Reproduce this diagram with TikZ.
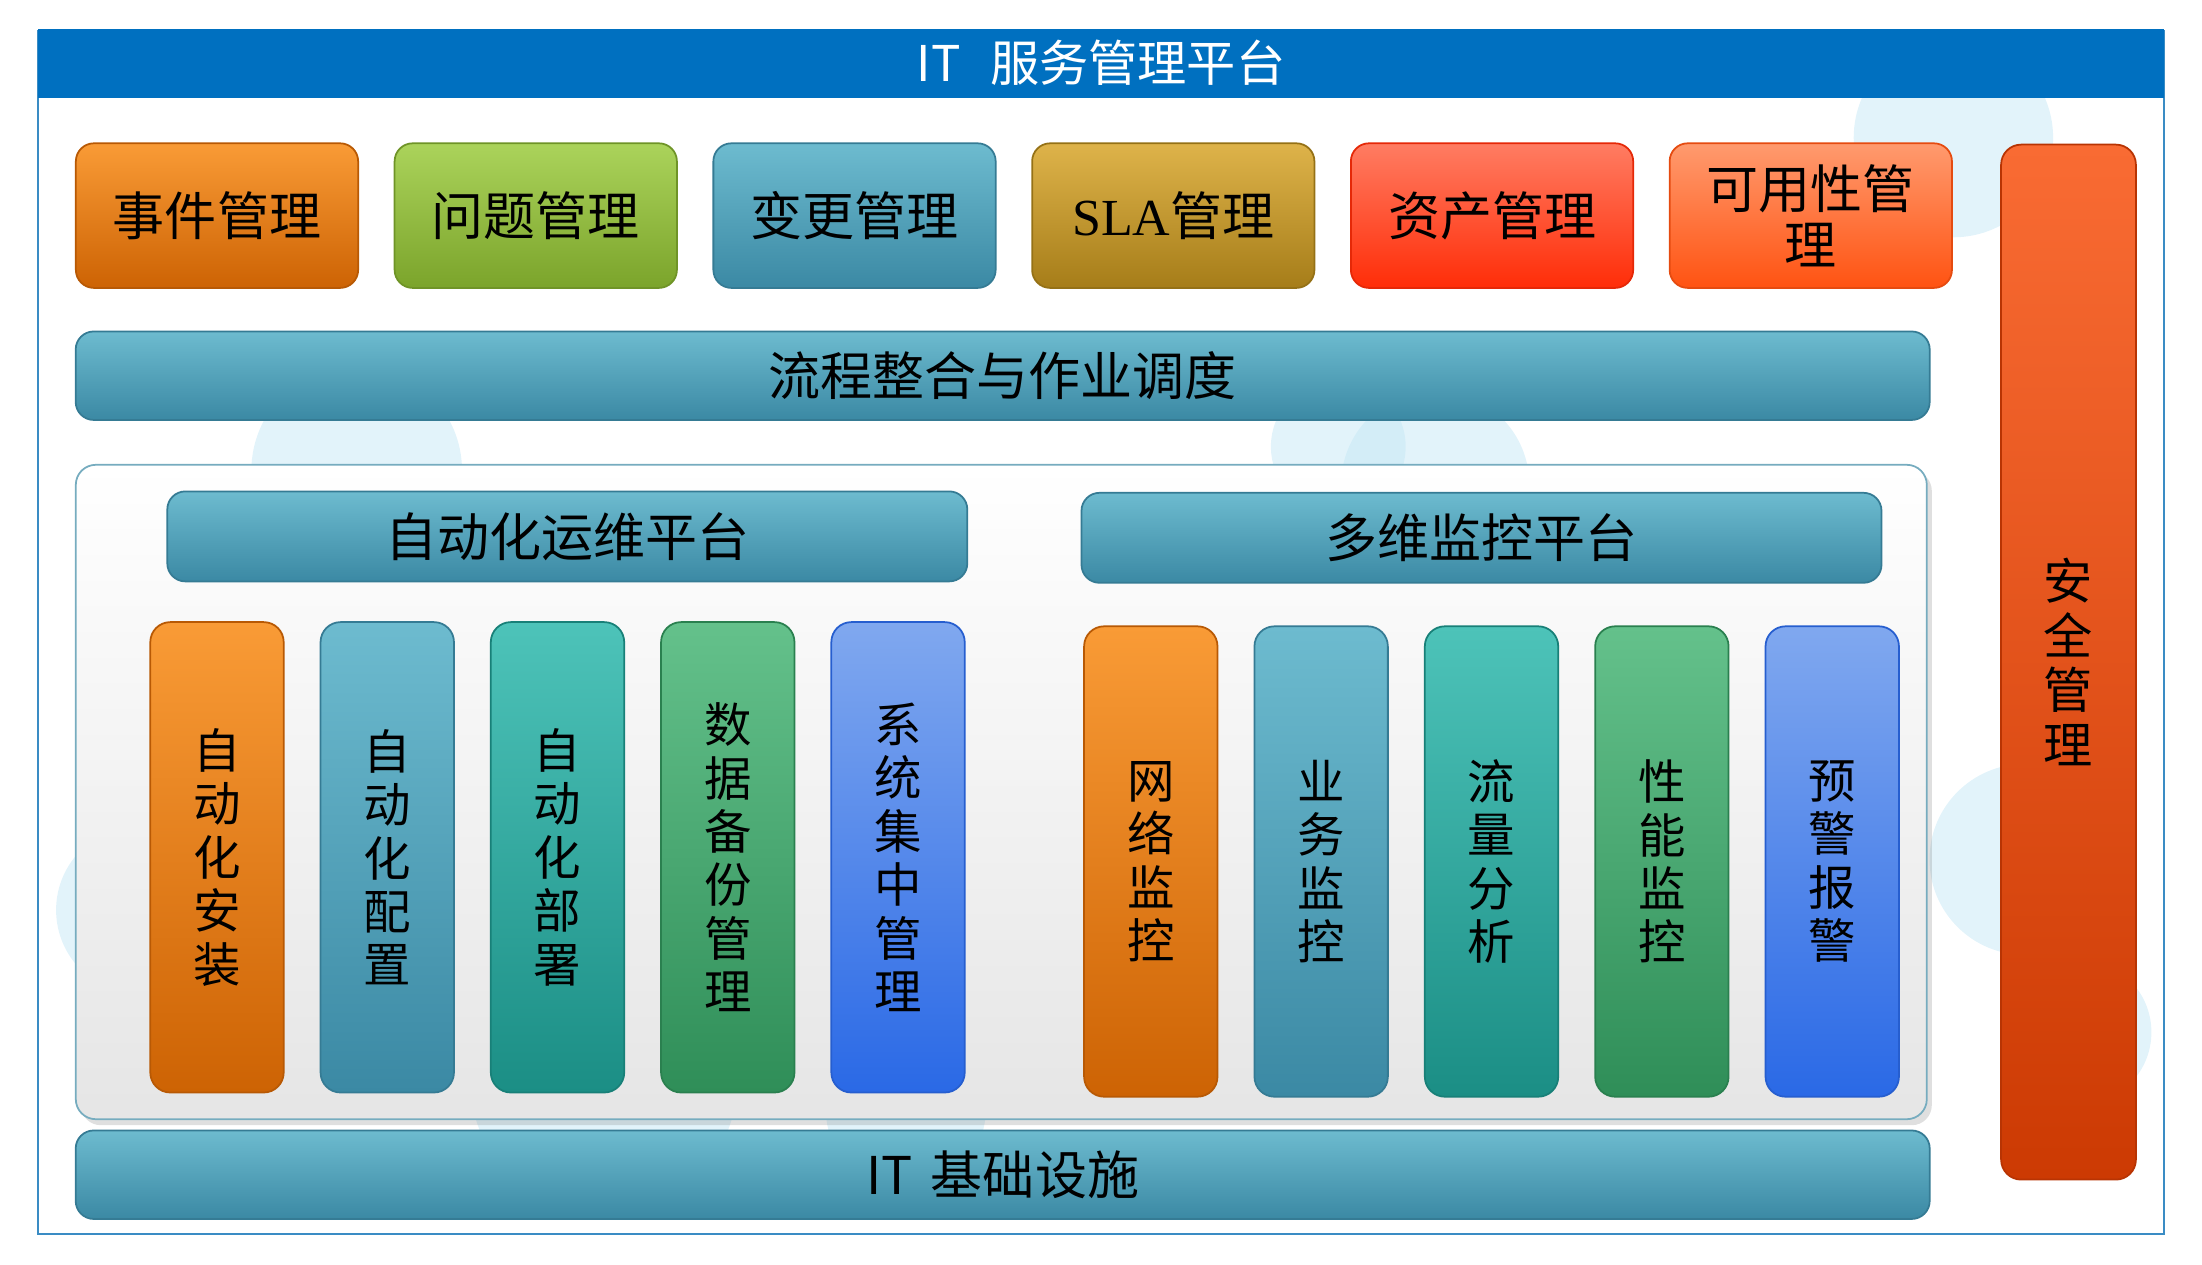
\documentclass[tikz,border=0pt]{standalone}
\usepackage{fontspec}
\setmainfont{Noto Sans CJK SC}
\newfontfamily\slafont{Liberation Serif}
\usepackage{tikz}
\usetikzlibrary{positioning,shadows}

\definecolor{titleblue}{HTML}{0070C0}
\definecolor{framec}{HTML}{3A8CC4}
\definecolor{cloud}{HTML}{C5E7F5}
\definecolor{ortop}{HTML}{F99B36}
\definecolor{orbot}{HTML}{CD6304}
\definecolor{grtop}{HTML}{ABD35B}
\definecolor{grbot}{HTML}{7BA42B}
\definecolor{tltop}{HTML}{6DBBCF}
\definecolor{tlbot}{HTML}{3B89A4}
\definecolor{gdtop}{HTML}{DEB34A}
\definecolor{gdbot}{HTML}{A67D19}
\definecolor{rdtop}{HTML}{FF7C62}
\definecolor{rdbot}{HTML}{FF2D08}
\definecolor{potop}{HTML}{FF9A6E}
\definecolor{pobot}{HTML}{FF5312}
\definecolor{sctop}{HTML}{F96B33}
\definecolor{scbot}{HTML}{CC3A03}
\definecolor{cytop}{HTML}{4DC3B9}
\definecolor{cybot}{HTML}{1B8E85}
\definecolor{gntop}{HTML}{64C18B}
\definecolor{gnbot}{HTML}{2F8E58}
\definecolor{bltop}{HTML}{80A8EF}
\definecolor{blbot}{HTML}{2A69E6}

\begin{document}
\begin{tikzpicture}[
  grad/.style 2 args={top color=#1, bottom color=#2, draw=#2!90!black, line width=0.5pt},
  topbox/.style={rounded corners=1.8mm, minimum width=2.823cm, minimum height=1.446cm,
                 align=center, font=\fontsize{14.8}{16}\selectfont},
  bar/.style={rounded corners=1.8mm, minimum width=18.54cm, minimum height=0.885cm,
              font=\fontsize{14.8}{16}\selectfont, grad={tltop}{tlbot}},
  subbar/.style={rounded corners=1.8mm, minimum width=8.0cm, minimum height=0.9cm,
                 font=\fontsize{14.8}{16}\selectfont, grad={tltop}{tlbot}},
  col/.style={rounded corners=2mm, minimum width=1.334cm, minimum height=4.704cm,
              align=center, font=\fontsize{13.5}{15.2}\selectfont},
  cloudc/.style={fill=cloud, opacity=0.5}
]
\useasboundingbox (0,0) rectangle (22.02,-12.64);

% background clouds
\fill[cloudc] (3.567,-4.704) circle (1.053);
\fill[cloudc] (19.534,-1.376) circle (0.997);
\fill[cloudc] (13.383,-4.466) circle (0.674);
\fill[cloudc] (14.352,-4.845) circle (0.941);
\fill[cloudc] (20.25,-8.594) circle (0.955);
\fill[cloudc] (1.404,-9.1) circle (0.843);
\fill[cloudc] (20.784,-10.322) circle (0.73);
\fill[cloudc] (6.038,-10.813) circle (1.334);
\fill[cloudc] (9.058,-11.094) circle (0.8);

\draw[framec, line width=0.6pt] (0.379,-0.309) rectangle (21.64,-12.344);
\node[fill=titleblue, text=white, minimum width=21.26cm, minimum height=0.646cm,
      font=\fontsize{14}{15.5}\selectfont] (title) at (11.01,-0.632) {IT\hspace{0.6em}服务管理平台};

\node[topbox, grad={ortop}{orbot}] (ev) at (2.170,-2.156) {事件管理};
\node[topbox, grad={grtop}{grbot}, right=0.347cm of ev] (pr) {问题管理};
\node[topbox, grad={tltop}{tlbot}, right=0.347cm of pr] (ch) {变更管理};
\node[topbox, grad={gdtop}{gdbot}, right=0.347cm of ch] (sla) {{\slafont SLA}管理};
\node[topbox, grad={rdtop}{rdbot}, right=0.347cm of sla] (as) {资产管理};
\node[topbox, grad={potop}{pobot}, right=0.347cm of as] (av) {可用性管\\理};

\node[col, grad={sctop}{scbot}, minimum width=1.348cm, minimum height=10.35cm,
      font=\fontsize{14}{15.5}\selectfont] (sec) at (20.685,-6.621) {安\\全\\管\\理};

\node[bar] (flow) at (10.027,-3.757) {流程整合与作业调度};

\node[rounded corners=2mm, minimum width=18.51cm, minimum height=6.544cm,
      top color=white, bottom color=black!10, draw=tlbot!70, line width=0.5pt,
      drop shadow={shadow xshift=0.5mm, shadow yshift=-0.6mm, opacity=0.25}]
      (panel) at (10.013,-7.920) {};

\node[subbar] (auto) at (5.673,-5.364) {自动化运维平台};
\node[subbar] (mon) at (14.815,-5.378) {多维监控平台};

\node[col, grad={ortop}{orbot}] (a1) at (2.170,-8.573) {自\\动\\化\\安\\装};
\node[col, grad={tltop}{tlbot}, right=0.351cm of a1] (a2) {自\\动\\化\\配\\置};
\node[col, grad={cytop}{cybot}, right=0.351cm of a2] (a3) {自\\动\\化\\部\\署};
\node[col, grad={gntop}{gnbot}, right=0.351cm of a3] (a4) {数\\据\\备\\份\\管\\理};
\node[col, grad={bltop}{blbot}, right=0.351cm of a4] (a5) {系\\统\\集\\中\\管\\理};

\node[col, grad={ortop}{orbot}] (m1) at (11.508,-8.615) {网\\络\\监\\控};
\node[col, grad={tltop}{tlbot}, right=0.352cm of m1] (m2) {业\\务\\监\\控};
\node[col, grad={cytop}{cybot}, right=0.352cm of m2] (m3) {流\\量\\分\\析};
\node[col, grad={gntop}{gnbot}, right=0.352cm of m3] (m4) {性\\能\\监\\控};
\node[col, grad={bltop}{blbot}, right=0.352cm of m4] (m5) {预\\警\\报\\警};

\node[bar] (infra) at (10.027,-11.747) {IT\hspace{0.35em}基础设施};
\end{tikzpicture}
\end{document}
